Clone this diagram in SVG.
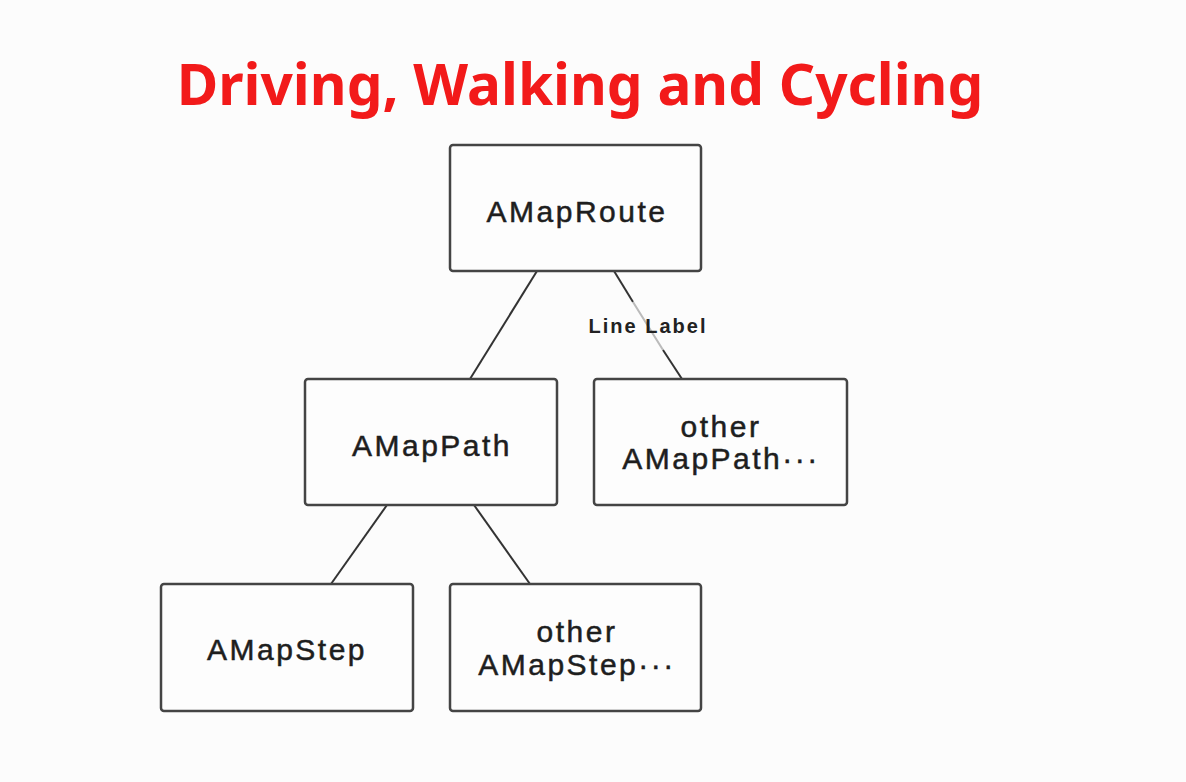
<svg xmlns="http://www.w3.org/2000/svg" width="1186" height="782" viewBox="0 0 1186 782">
<style>
.node rect{fill:#fdfdfd;stroke:#444;stroke-width:2.5}
.node text{font-family:"Liberation Sans",Arial,sans-serif;font-size:30px;fill:#1e1e1e;stroke:#1e1e1e;stroke-width:0.5;text-anchor:middle;letter-spacing:2.5px}
.edge{stroke:#333;stroke-width:2;fill:none}
.faint{stroke:#bbb;stroke-width:2;fill:none}
.title{font-family:"Noto Sans","Open Sans",sans-serif;font-weight:bold;font-size:56.7px;fill:#f21a1a;text-anchor:middle}
.lbl{font-family:"Liberation Sans",Arial,sans-serif;font-size:20px;font-weight:bold;fill:#222;text-anchor:middle;letter-spacing:2px}
</style>
<rect width="1186" height="782" fill="#fcfcfc"/>
<text class="title" x="580" y="105">Driving, Walking and Cycling</text>
<g id="connectors">
<line class="edge" x1="537" y1="271" x2="470" y2="379"/>
<line class="edge" x1="614" y1="271" x2="633" y2="302"/>
<line class="faint" x1="633" y1="302" x2="663" y2="350"/>
<line class="edge" x1="663" y1="350" x2="682" y2="379"/>
<line class="edge" x1="387" y1="505" x2="331" y2="584"/>
<line class="edge" x1="474" y1="505" x2="530" y2="584"/>
<text class="lbl" x="648" y="333">Line Label</text>
</g>
<g id="n-route" class="node">
<rect x="450" y="145" width="251" height="126" rx="3"/>
<text x="577" y="222">AMapRoute</text>
</g>
<g id="n-path" class="node">
<rect x="305" y="379" width="252" height="126" rx="3"/>
<text x="432" y="456">AMapPath</text>
</g>
<g id="n-otherpath" class="node">
<rect x="594" y="379" width="253" height="126" rx="3"/>
<text x="721" y="437">other</text>
<text x="721" y="469">AMapPath···</text>
</g>
<g id="n-step" class="node">
<rect x="161" y="584" width="252" height="127" rx="3"/>
<text x="287" y="660">AMapStep</text>
</g>
<g id="n-otherstep" class="node">
<rect x="450" y="584" width="251" height="127" rx="3"/>
<text x="577" y="642">other</text>
<text x="577" y="675">AMapStep···</text>
</g>
</svg>
